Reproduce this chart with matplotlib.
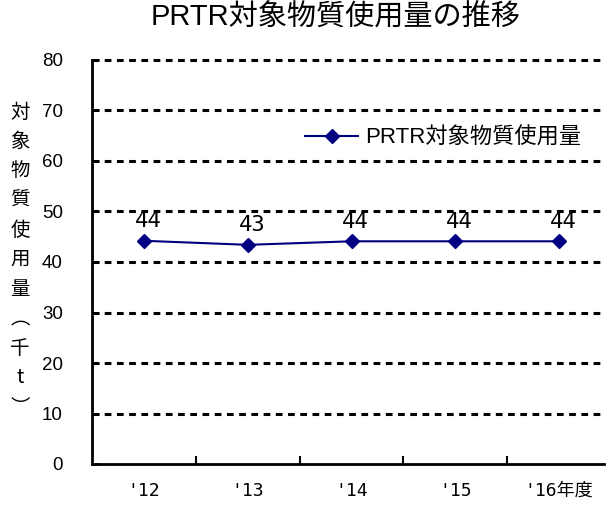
import matplotlib
matplotlib.use("Agg")
from matplotlib import pyplot as plt

plt.rcParams['font.family'] = ['Liberation Sans', 'Noto Sans CJK JP']

years = ["'12", "'13", "'14", "'15", "'16年度"]
usage = [44.2, 43.4, 44.1, 44.1, 44.1]
labels = ["44", "43", "44", "44", "44"]
yticks = [0, 10, 20, 30, 40, 50, 60, 70, 80]
ylab = "対象物質使用量︵千t︶"
title = "PRTR対象物質使用量の推移"
series_name = "PRTR対象物質使用量"

W, H = 608, 513
fig = plt.figure(figsize=(W / 100, H / 100), dpi=100)
ax = fig.add_axes([92 / W, (H - 464) / H, 512 / W, 404 / H])

navy = "#000080"
mono = ['DejaVu Sans Mono', 'Noto Sans CJK JP']

x = list(range(len(years)))
ax.plot(x, usage, color=navy, marker="D", markersize=7.5, linewidth=1.5,
        label=series_name, clip_on=False, zorder=3)
for i, v in enumerate(usage):
    ax.annotate(labels[i], (i, v), xytext=(3, 14), textcoords="offset points",
                ha="center", va="center", fontsize=16, family=mono)

ax.set_xlim(-0.5, len(years) - 0.5 - 7 / 103.5)
ax.set_ylim(0, 80)
ax.set_yticks(yticks)
ax.set_yticklabels([str(t) for t in yticks], fontsize=13.5)
for t in yticks[1:]:
    ax.axhline(t, color="black", linestyle=(0, (2.2, 1.8)), linewidth=2.2,
               zorder=1, clip_on=False)

ax.set_xticks([i + 0.5 for i in range(len(years) - 1)])
ax.set_xticklabels([])
ax.set_xticks(x, minor=True)
ax.set_xticklabels(years, minor=True, fontsize=13, family=mono)
ax.tick_params(axis="x", which="major", direction="in", length=6, width=1.5)
ax.tick_params(axis="x", which="minor", length=0, pad=13)
ax.tick_params(axis="y", direction="in", length=5, width=2, pad=21)

ax.spines["top"].set_visible(False)
ax.spines["right"].set_visible(False)
ax.spines["left"].set_linewidth(2)
ax.spines["bottom"].set_linewidth(2)

ax.legend(loc="center left", bbox_to_anchor=(305 / W, 1 - 138 / H),
          bbox_transform=fig.transFigure, frameon=False, fontsize=16,
          handlelength=2.4, handletextpad=0.3, borderpad=0, borderaxespad=0)

fig.text(336 / W, 1 - 18 / H, title, ha="center", va="center", fontsize=21)
for i, ch in enumerate(ylab):
    fig.text(20 / W, 1 - (112 + 29.5 * i) / H, ch, ha="center", va="center",
             fontsize=14, family=['Noto Sans CJK JP', 'DejaVu Sans'])

fig.savefig("out.png", dpi=100)
